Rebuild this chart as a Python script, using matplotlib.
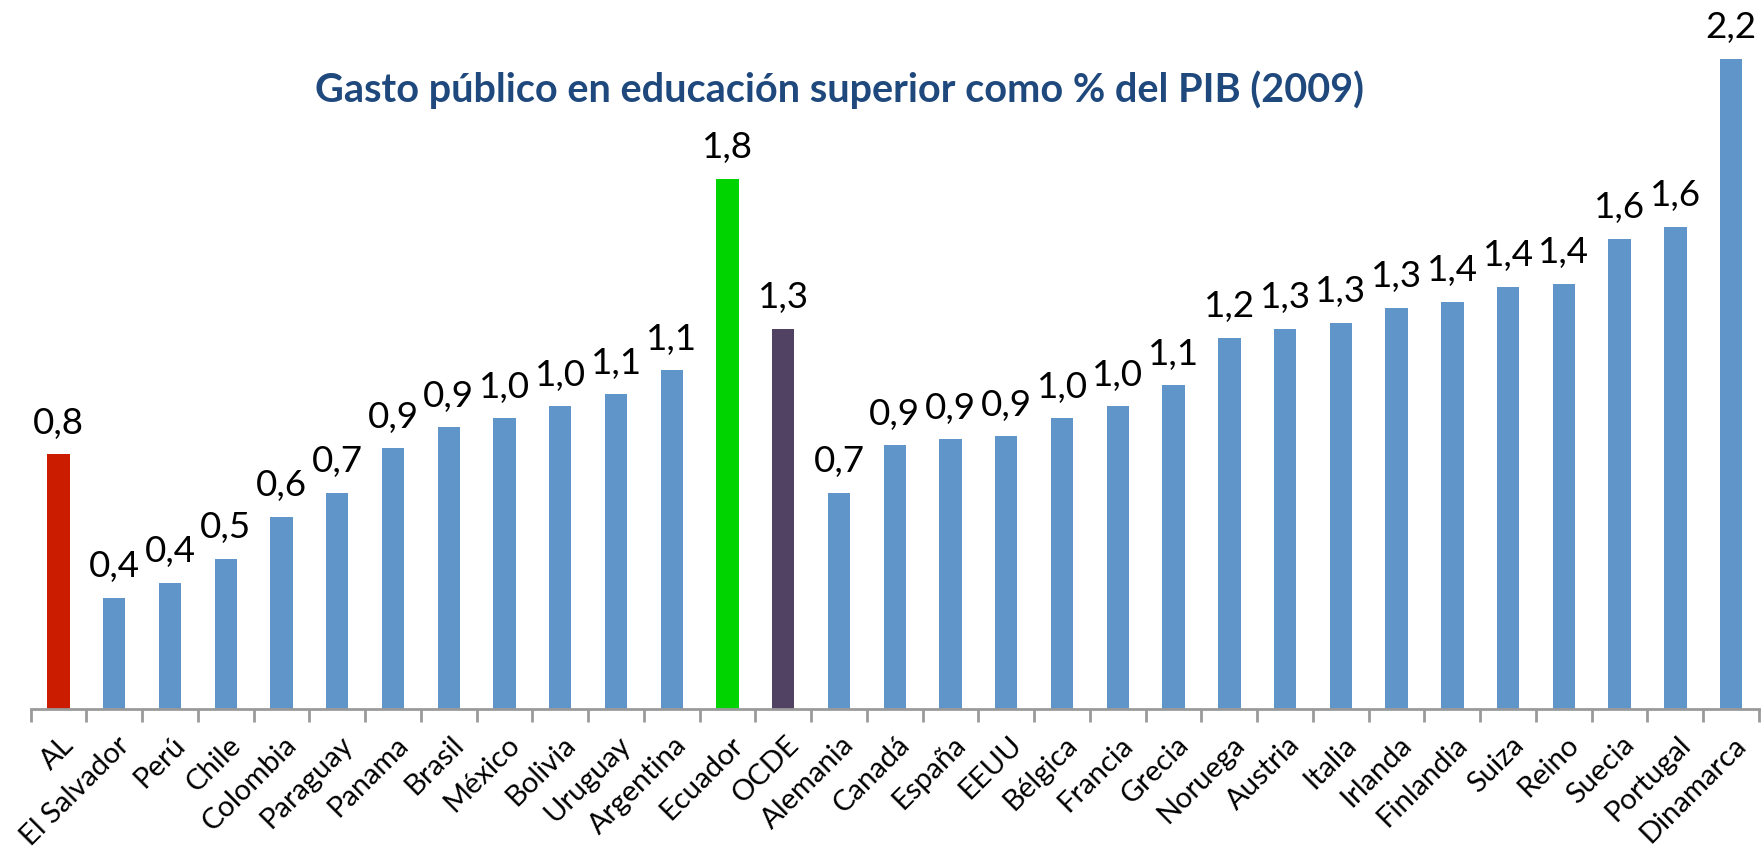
import matplotlib
matplotlib.use("Agg")
import matplotlib.pyplot as plt
import matplotlib.transforms as mtransforms
import numpy as np

plt.rcParams['font.family'] = ['Lato', 'DejaVu Sans']

# data
countries = ["AL", "El Salvador", "Perú", "Chile", "Colombia", "Paraguay", "Panama",
             "Brasil", "México", "Bolivia", "Uruguay", "Argentina", "Ecuador", "OCDE",
             "Alemania", "Canadá", "España", "EEUU", "Bélgica", "Francia", "Grecia",
             "Noruega", "Austria", "Italia", "Irlanda", "Finlandia", "Suiza", "Reino",
             "Suecia", "Portugal", "Dinamarca"]
gasto = [0.85, 0.37, 0.42, 0.50, 0.64, 0.72, 0.87,
         0.94, 0.97, 1.01, 1.05, 1.13, 1.77, 1.27,
         0.72, 0.88, 0.90, 0.91, 0.97, 1.01, 1.08,
         1.24, 1.27, 1.29, 1.34, 1.36, 1.41, 1.42,
         1.57, 1.61, 2.17]
etiquetas = ["0,8", "0,4", "0,4", "0,5", "0,6", "0,7", "0,9",
             "0,9", "1,0", "1,0", "1,1", "1,1", "1,8", "1,3",
             "0,7", "0,9", "0,9", "0,9", "1,0", "1,0", "1,1",
             "1,2", "1,3", "1,3", "1,3", "1,4", "1,4", "1,4",
             "1,6", "1,6", "2,2"]

azul = "#6095C9"
destacados = {"AL": "#CC1C00", "Ecuador": "#00D400", "OCDE": "#514263"}
colores = [destacados.get(c, azul) for c in countries]

fig = plt.figure(figsize=(17.62, 8.47), dpi=100)
ax = fig.add_axes([0.0174, 0.163, 0.9809, 0.837])

x = np.arange(len(countries))
ax.bar(x, gasto, width=0.4, color=colores)

# value labels above bars
for xi, v, lab in zip(x, gasto, etiquetas):
    ax.annotate(lab, (xi, v), xytext=(0, 15), textcoords="offset points",
                ha="center", va="baseline", fontsize=26.5, color="black",
                annotation_clip=False)

ax.set_xlim(-0.5, len(countries) - 0.5)
ax.set_ylim(0, 2.367)

# only the bottom axis line, ticks between categories
for s in ["top", "right", "left"]:
    ax.spines[s].set_visible(False)
ax.spines["bottom"].set_color("#9A9A9A")
ax.spines["bottom"].set_linewidth(2)
ax.set_yticks([])
ax.set_xticks(np.arange(len(countries) + 1) - 0.5, minor=True)
ax.tick_params(axis="x", which="minor", length=9, width=2, color="#9A9A9A", direction="out")
ax.tick_params(axis="x", which="major", length=0, pad=23)
ax.set_xticks(x)
ax.set_xticklabels(countries, fontsize=21, rotation=45, ha="right", va="center",
                   rotation_mode="anchor")
shift = mtransforms.ScaledTranslation(11 / 100, 0, fig.dpi_scale_trans)
for lbl in ax.get_xticklabels():
    lbl.set_transform(lbl.get_transform() + shift)

fig.text(0.4765, 0.894, "Gasto público en educación superior como % del PIB (2009)",
         ha="center", va="center", fontsize=28.5, fontweight="bold", color="#1F497D")

fig.savefig("out.png", dpi=100)
